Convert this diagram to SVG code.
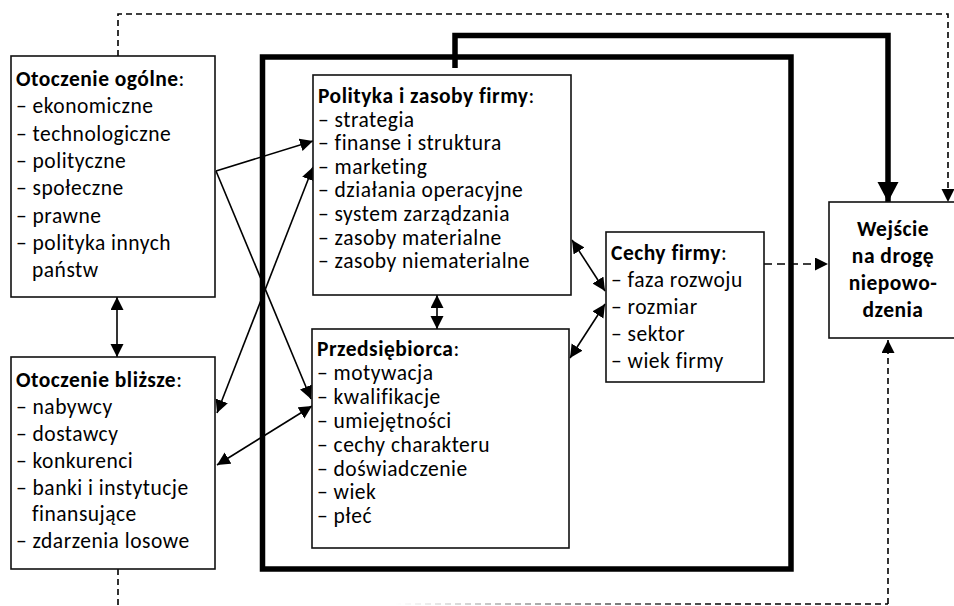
<svg xmlns="http://www.w3.org/2000/svg" width="954" height="606" viewBox="0 0 954 606">
  <style>
    text { font-family: Carlito, Lato, "Liberation Sans", sans-serif; font-size: 21.5px; letter-spacing: 0.5px; fill: #000; }
    .b { font-weight: bold; }
    .box { fill: #fff; stroke: #111; stroke-width: 1.6; }
    .frame { fill: none; stroke: #000; stroke-width: 5.5; }
    .ln { fill: none; stroke: #000; stroke-width: 1.6; }
    .dash { fill: none; stroke: #000; stroke-width: 1.6; stroke-dasharray: 6 4; }
    .dash2 { fill: none; stroke: #000; stroke-width: 1.6; stroke-dasharray: 8 5; }
    .thick { fill: none; stroke: #000; stroke-width: 5.5; }
  </style>
  <defs>
    <marker id="ah" markerUnits="userSpaceOnUse" markerWidth="14" markerHeight="14" refX="13" refY="6.5" orient="auto-start-reverse" viewBox="0 0 14 14">
      <path d="M0,0 L13,6.5 L0,13 z" fill="#000"/>
    </marker>
    <marker id="ahBig" markerUnits="userSpaceOnUse" markerWidth="22" markerHeight="22" refX="20" refY="10.5" orient="auto" viewBox="0 0 22 22">
      <path d="M0,0 L20,10.5 L0,21 z" fill="#000"/>
    </marker>
    <linearGradient id="fade" gradientUnits="userSpaceOnUse" x1="395" y1="0" x2="720" y2="0">
      <stop offset="0" stop-color="#000" stop-opacity="0"/>
      <stop offset="1" stop-color="#000" stop-opacity="1"/>
    </linearGradient>
  </defs>

  <!-- firm boundary -->
  <rect class="frame" x="262.5" y="57" width="528.5" height="512"/>

  <g id="connectors">
    <!-- feedback loops (dashed) -->
    <path class="dash" d="M118,56 V14 H948 V202" marker-end="url(#ah)"/>
    <path class="dash" d="M118,569 V606"/>
    <path fill="none" stroke="url(#fade)" stroke-width="1.6" stroke-dasharray="6 4" d="M395,604 H888"/>
    <path class="dash" d="M888,604 V340" marker-end="url(#ah)"/>
    <!-- firm policy to failure path -->
    <path class="thick" d="M455,68 V35.5 H888 V202" marker-end="url(#ahBig)"/>
    <!-- environment links -->
    <line class="ln" x1="216" y1="171" x2="313" y2="141" marker-end="url(#ah)"/>
    <line class="ln" x1="216" y1="171" x2="311" y2="399" marker-end="url(#ah)"/>
    <line class="ln" x1="217" y1="413" x2="313" y2="167" marker-start="url(#ah)" marker-end="url(#ah)"/>
    <line class="ln" x1="217" y1="465" x2="312" y2="406" marker-start="url(#ah)" marker-end="url(#ah)"/>
    <line class="ln" x1="117" y1="297" x2="117" y2="357" marker-start="url(#ah)" marker-end="url(#ah)"/>
    <!-- inside the firm -->
    <line class="ln" x1="437" y1="295" x2="437" y2="329" marker-start="url(#ah)" marker-end="url(#ah)"/>
    <line class="ln" x1="572" y1="240" x2="605" y2="291" marker-start="url(#ah)" marker-end="url(#ah)"/>
    <line class="ln" x1="570" y1="358" x2="605" y2="304" marker-start="url(#ah)" marker-end="url(#ah)"/>
    <line class="dash2" x1="764" y1="264" x2="828" y2="264" marker-end="url(#ah)"/>
  </g>

  <g id="otoczenie-ogolne">
    <rect class="box" x="11" y="56" width="204" height="241"/>
    <text x="16" y="86"><tspan class="b">Otoczenie ogólne</tspan>:</text>
    <text x="16" y="113.3">– ekonomiczne</text>
    <text x="16" y="140.6">– technologiczne</text>
    <text x="16" y="167.9">– polityczne</text>
    <text x="16" y="195.2">– społeczne</text>
    <text x="16" y="222.5">– prawne</text>
    <text x="16" y="249.8">– polityka innych</text>
    <text x="32" y="277.1">państw</text>
  </g>

  <g id="otoczenie-blizsze">
    <rect class="box" x="11" y="357" width="204" height="212"/>
    <text x="16" y="387"><tspan class="b">Otoczenie bliższe</tspan>:</text>
    <text x="16" y="414">– nabywcy</text>
    <text x="16" y="441">– dostawcy</text>
    <text x="16" y="468">– konkurenci</text>
    <text x="16" y="495">– banki i instytucje</text>
    <text x="32" y="521">finansujące</text>
    <text x="16" y="548">– zdarzenia losowe</text>
  </g>

  <g id="polityka">
    <rect class="box" x="313" y="75" width="258" height="220"/>
    <text x="318" y="103"><tspan class="b">Polityka i zasoby firmy</tspan>:</text>
    <text x="318" y="126.6">– strategia</text>
    <text x="318" y="150.2">– finanse i struktura</text>
    <text x="318" y="173.8">– marketing</text>
    <text x="318" y="197.4">– działania operacyjne</text>
    <text x="318" y="221">– system zarządzania</text>
    <text x="318" y="244.6">– zasoby materialne</text>
    <text x="318" y="268.2">– zasoby niematerialne</text>
  </g>

  <g id="przedsiebiorca">
    <rect class="box" x="312" y="329" width="257" height="219"/>
    <text x="317" y="356"><tspan class="b">Przedsiębiorca</tspan>:</text>
    <text x="317" y="380">– motywacja</text>
    <text x="317" y="403.8">– kwalifikacje</text>
    <text x="317" y="427.7">– umiejętności</text>
    <text x="317" y="451.6">– cechy charakteru</text>
    <text x="317" y="475.5">– doświadczenie</text>
    <text x="317" y="499.4">– wiek</text>
    <text x="317" y="523.3">– płeć</text>
  </g>

  <g id="cechy-firmy">
    <rect class="box" x="606" y="232" width="158" height="150"/>
    <text x="611" y="260"><tspan class="b">Cechy firmy</tspan>:</text>
    <text x="611" y="287">– faza rozwoju</text>
    <text x="611" y="314">– rozmiar</text>
    <text x="611" y="341">– sektor</text>
    <text x="611" y="368">– wiek firmy</text>
  </g>

  <g id="wejscie">
    <rect class="box" x="829" y="202" width="130" height="136"/>
    <text class="b" x="893" y="236" text-anchor="middle">Wejście</text>
    <text class="b" x="893" y="263" text-anchor="middle">na drogę</text>
    <text class="b" x="893" y="290" text-anchor="middle">niepowo-</text>
    <text class="b" x="893" y="317" text-anchor="middle">dzenia</text>
  </g>
</svg>
